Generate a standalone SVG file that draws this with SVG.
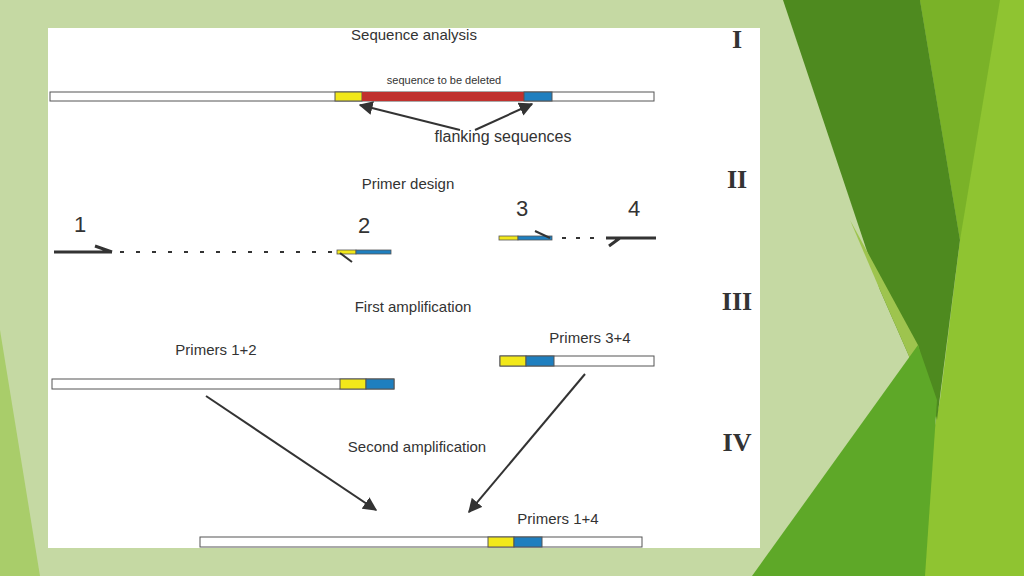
<svg xmlns="http://www.w3.org/2000/svg" width="1024" height="576" viewBox="0 0 1024 576">
<defs>
<style>
.t{font-family:"Liberation Sans",Arial,sans-serif;fill:#333}
.r{font-family:"Liberation Serif","Times New Roman",serif;font-weight:bold;fill:#333;font-size:26px}
.bar{fill:#fff;stroke:#555;stroke-width:1}
.pr{stroke:#333;stroke-width:3;fill:none}
.ar{stroke:#333;stroke-width:2;fill:none}
</style>
<marker id="ah" viewBox="0 0 10 10" refX="9" refY="5" markerWidth="7" markerHeight="7" orient="auto"><path d="M0,0L10,5L0,10z" fill="#333"/></marker>
</defs>
<rect width="1024" height="576" fill="#c5d9a3"/>
<polygon points="0,330 40,576 0,576" fill="#a9cd6a"/>
<polygon points="920,0 1024,0 1024,576 905,576 940,400 960,240" fill="#8fc431"/>
<polygon points="920,0 1000,0 960,240" fill="#7ab228"/>
<polygon points="783,0 920,0 960,240 937,420 880,290" fill="#4e8a1f"/>
<polygon points="850,220 880,290 937,420 918,345" fill="#9ec44e"/>
<polygon points="752,576 918,345 937,400 925,576" fill="#5ea828"/>
<rect x="48" y="28" width="712" height="520" fill="#fff"/>
<g id="stage1">
<text class="t" x="414" y="40" font-size="15" text-anchor="middle">Sequence analysis</text>
<text class="r" x="737" y="48" text-anchor="middle">I</text>
<text class="t" x="444" y="84" font-size="11" text-anchor="middle">sequence to be deleted</text>
<rect class="bar" x="50" y="92" width="604" height="9"/>
<rect x="335" y="92" width="27" height="9" fill="#f2e81a" stroke="#555"/>
<rect x="362" y="92" width="162" height="9" fill="#c0312e"/>
<rect x="524" y="92" width="28" height="9" fill="#1f7fbf" stroke="#555"/>
<text class="t" x="503" y="142" font-size="16" text-anchor="middle">flanking sequences</text>
</g>
<g id="stage2">
<text class="t" x="408" y="189" font-size="15" text-anchor="middle">Primer design</text>
<text class="r" x="737" y="188" text-anchor="middle">II</text>
<text class="t" x="80" y="232" font-size="22" text-anchor="middle">1</text>
<text class="t" x="364" y="233" font-size="22" text-anchor="middle">2</text>
<text class="t" x="522" y="216" font-size="22" text-anchor="middle">3</text>
<text class="t" x="634" y="216" font-size="22" text-anchor="middle">4</text>
<path class="pr" d="M54,252H112M95,246L112,252"/>
<path d="M120,252H335" stroke="#333" stroke-width="2" stroke-dasharray="4,12"/>
<rect x="337" y="250" width="19" height="4" fill="#f2e81a" stroke="#555" stroke-width=".8"/>
<rect x="356" y="250" width="35" height="4" fill="#1f7fbf" stroke="#555" stroke-width=".8"/>
<path class="ar" d="M340,253L352,262"/>
<rect x="499" y="236" width="19" height="4" fill="#f2e81a" stroke="#555" stroke-width=".8"/>
<rect x="518" y="236" width="34" height="4" fill="#1f7fbf" stroke="#555" stroke-width=".8"/>
<path class="ar" d="M535,231L550,238"/>
<path d="M562,238H600" stroke="#333" stroke-width="2" stroke-dasharray="4,10"/>
<path class="pr" d="M606,238H656M620,238L609,246"/>
</g>
<g id="stage3">
<text class="t" x="413" y="312" font-size="15" text-anchor="middle">First amplification</text>
<text class="r" x="737" y="310" text-anchor="middle">III</text>
<text class="t" x="216" y="355" font-size="15" text-anchor="middle">Primers 1+2</text>
<text class="t" x="590" y="343" font-size="15" text-anchor="middle">Primers 3+4</text>
<rect class="bar" x="52" y="379" width="342" height="10"/>
<rect x="340" y="379" width="26" height="10" fill="#f2e81a" stroke="#555"/>
<rect x="366" y="379" width="28" height="10" fill="#1f7fbf" stroke="#555"/>
<rect class="bar" x="500" y="356" width="154" height="10"/>
<rect x="500" y="356" width="26" height="10" fill="#f2e81a" stroke="#555"/>
<rect x="526" y="356" width="28" height="10" fill="#1f7fbf" stroke="#555"/>
</g>
<g id="stage4">
<text class="t" x="417" y="452" font-size="15" text-anchor="middle">Second amplification</text>
<text class="r" x="737" y="451" text-anchor="middle">IV</text>
<text class="t" x="558" y="524" font-size="15" text-anchor="middle">Primers 1+4</text>
<rect class="bar" x="200" y="537" width="442" height="10"/>
<rect x="488" y="537" width="26" height="10" fill="#f2e81a" stroke="#555"/>
<rect x="514" y="537" width="28" height="10" fill="#1f7fbf" stroke="#555"/>
</g>
<g id="connectors">
<path class="ar" d="M460,130L360,105" marker-end="url(#ah)"/>
<path class="ar" d="M475,130L532,104" marker-end="url(#ah)"/>
<path class="ar" d="M206,396L376,510" marker-end="url(#ah)"/>
<path class="ar" d="M585,374L469,512" marker-end="url(#ah)"/>
</g>
</svg>
